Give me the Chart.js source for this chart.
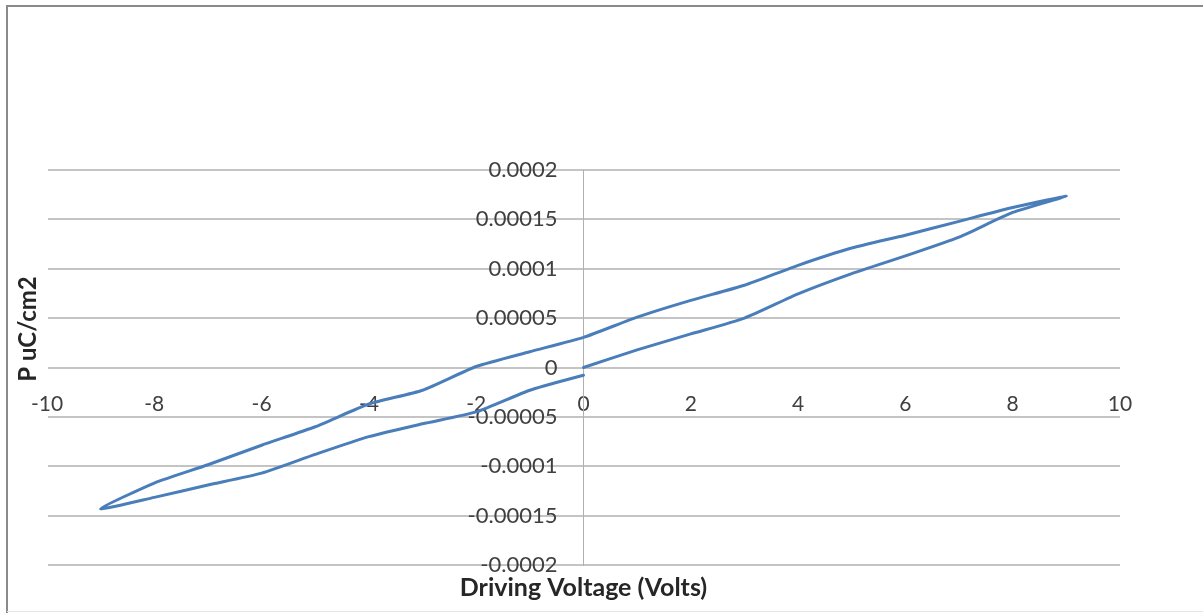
<!DOCTYPE html>
<html>
<head>
<meta charset="utf-8">
<script src="https://cdn.jsdelivr.net/npm/chart.js@4"></script>
<style>
  html, body { margin: 0; padding: 0; background: #ffffff; }
  #wrap { position: relative; width: 1203px; height: 613px; }
  canvas { display: block; }
</style>
</head>
<body>
<div id="wrap"><canvas id="c" width="1203" height="613"></canvas></div>
<script>
// ---- data ----
const voltage = [
  0, 1, 2, 3, 4, 5, 6, 7, 8, 9,
  8, 7, 6, 5, 4, 3, 2, 1, 0, -1, -2, -3, -4, -5, -6, -7, -8, -9,
  -8, -7, -6, -5, -4, -3, -2, -1, 0
];
const polarization = [
  0, 0.0000178, 0.000034, 0.00005, 0.0000745, 0.000095, 0.000113, 0.000132, 0.000157, 0.0001734,
  0.000162, 0.000148, 0.000134, 0.000121, 0.0001035, 0.0000833, 0.000068, 0.000051, 0.0000305,
  0.000016, 0.000001, -0.000023, -0.000037, -0.00006, -0.0000787, -0.0000985, -0.000117, -0.000143,
  -0.0001315, -0.000119, -0.000107, -0.000088, -0.00007, -0.000057, -0.000045, -0.000023, -0.0000078
];
const xTickLabels = ['-10', '-8', '-6', '-4', '-2', '0', '2', '4', '6', '8', '10'];
const yTickLabels = ['-0.0002', '-0.00015', '-0.0001', '-0.00005', '0', '0.00005', '0.0001', '0.00015', '0.0002'];
const xTitle = 'Driving Voltage (Volts)';
const yTitle = 'P uC/cm2';

const points = voltage.map((v, i) => ({ x: v, y: polarization[i] }));

const FONT = 'Lato, "Liberation Sans", sans-serif';

const decor = {
  id: 'decor',
  afterLayout(chart) {
    // place the vertical axis (labels + line) where x = 0
    const ys = chart.scales.y;
    const px = chart.scales.x.getPixelForValue(0);
    ys.left = px - 250;
    ys.right = px;
    ys.width = 250;
  },
  beforeDraw(chart) {
    const ctx = chart.ctx;
    ctx.save();
    ctx.fillStyle = '#ffffff';
    ctx.fillRect(0, 0, chart.width, chart.height);
    ctx.strokeStyle = '#8a8a8a';
    ctx.lineWidth = 2;
    ctx.beginPath();
    ctx.moveTo(7, 613);
    ctx.lineTo(7, 6);
    ctx.lineTo(1203, 6);
    ctx.stroke();
    ctx.strokeStyle = '#e6e6e6';
    ctx.lineWidth = 1;
    ctx.beginPath();
    ctx.moveTo(7, 611.5);
    ctx.lineTo(1203, 611.5);
    ctx.stroke();
    ctx.restore();
  },
  afterDraw(chart) {
    const ctx = chart.ctx;
    ctx.save();
    ctx.fillStyle = '#262626';
    ctx.textAlign = 'center';
    ctx.textBaseline = 'middle';
    ctx.font = 'bold 25px ' + FONT;
    ctx.fillText(xTitle, chart.scales.x.getPixelForValue(0), 588);
    ctx.font = 'bold 24px ' + FONT;
    ctx.translate(28, 329);
    ctx.rotate(-Math.PI / 2);
    ctx.fillText(yTitle, 0, 0);
    ctx.restore();
  }
};

new Chart(document.getElementById('c'), {
  type: 'scatter',
  data: {
    datasets: [{
      data: points,
      showLine: true,
      borderColor: '#4a7ebb',
      backgroundColor: '#4a7ebb',
      borderWidth: 3,
      pointRadius: 0,
      tension: 0.2,
      borderCapStyle: 'round',
      borderJoinStyle: 'round'
    }]
  },
  options: {
    responsive: false,
    animation: false,
    devicePixelRatio: 1,
    layout: { padding: { left: 47, right: 83, top: 170, bottom: 48 } },
    plugins: { legend: { display: false }, tooltip: { enabled: false } },
    scales: {
      x: {
        type: 'linear',
        position: { y: 0 },
        min: -10, max: 10,
        grid: { display: false, drawTicks: false },
        border: { display: false },
        ticks: {
          stepSize: 2,
          padding: 24,
          color: '#404040',
          font: { family: FONT, size: 21 },
          callback: (v) => xTickLabels[Math.round((v + 10) / 2)]
        }
      },
      y: {
        type: 'linear',
        position: 'left',
        afterFit: (s) => { s.width = 0; },
        min: -0.0002, max: 0.0002,
        grid: { color: '#c4c4c4', lineWidth: 2, drawTicks: false },
        border: { display: true, color: '#b0b0b0', width: 1 },
        ticks: {
          stepSize: 0.00005,
          padding: 26,
          color: '#404040',
          font: { family: FONT, size: 22 },
          callback: (v) => yTickLabels[Math.round((v + 0.0002) / 0.00005)]
        }
      }
    }
  },
  plugins: [decor]
});
</script>
</body>
</html>
